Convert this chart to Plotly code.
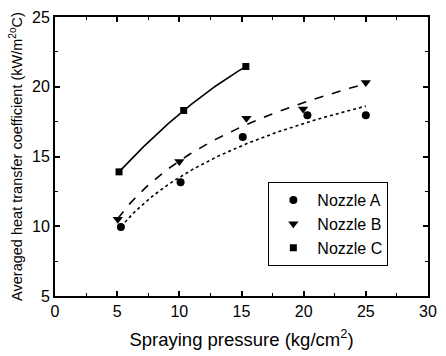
import numpy as np
import plotly.graph_objects as go

# Spraying pressure (kg/cm^2) and averaged heat transfer coefficient (kW/m^2 °C)
pressure_a = [5.3, 10.1, 15.1, 20.3, 25.0]
htc_a = [9.95, 13.15, 16.4, 17.95, 17.95]

pressure_b = [5.05, 10.0, 15.4, 19.95, 25.0]
htc_b = [10.5, 14.65, 17.75, 18.4, 20.3]

pressure_c = [5.15, 10.35, 15.35]
htc_c = [13.9, 18.3, 21.45]

x_ticks = [0, 5, 10, 15, 20, 25, 30]
y_ticks = [5, 10, 15, 20, 25]

FONT = "Liberation Sans, Arial, sans-serif"

fig = go.Figure()


def log_fit(xs, ys):
    # least-squares y = a*ln(x) + b
    a, b = np.polyfit(np.log(xs), ys, 1)
    xx = np.linspace(min(xs), max(xs), 80)
    return xx, a * np.log(xx) + b


def quad_fit(xs, ys):
    coef = np.polyfit(xs, ys, 2)
    xx = np.linspace(min(xs), max(xs), 80)
    return xx, np.polyval(coef, xx)


series = [
    ("Nozzle A", pressure_a, htc_a, "circle", "dot", 8, log_fit),
    ("Nozzle B", pressure_b, htc_b, "triangle-down", "dash", 9, log_fit),
    ("Nozzle C", pressure_c, htc_c, "square", "solid", 7, quad_fit),
]

for name, xs, ys, sym, dash, msize, fit in series:
    fx, fy = fit(xs, ys)
    fig.add_trace(go.Scatter(
        x=fx, y=fy, mode="lines", showlegend=False, hoverinfo="skip",
        line=dict(color="black", width=1.6, dash=dash),
    ))
    fig.add_trace(go.Scatter(
        x=xs, y=ys, mode="markers", name=name,
        marker=dict(symbol=sym, size=msize, color="black"),
    ))

axis_common = dict(
    showline=True, linecolor="black", linewidth=2, mirror="ticks",
    ticks="inside", ticklen=5, tickwidth=1.5, tickcolor="black",
    showgrid=False, zeroline=False,
    tickfont=dict(family=FONT, size=16, color="black"),
    minor=dict(ticks="inside", ticklen=3, tickcolor="black", tickwidth=1.2),
)

fig.update_xaxes(
    range=[0, 30], tickvals=x_ticks, minor_dtick=2.5, minor_tick0=0,
    title=dict(text="Spraying pressure (kg/cm<sup>2</sup>)",
               font=dict(family=FONT, size=18.5, color="black"), standoff=14),
    **axis_common,
)
fig.update_yaxes(
    range=[5, 25], tickvals=y_ticks, minor_dtick=2.5, minor_tick0=0,
    title=dict(text="Averaged heat transfer coefficient (kW/m<sup>2o</sup>C)",
               font=dict(family=FONT, size=14.5, color="black"), standoff=6),
    **axis_common,
)

fig.update_layout(
    width=446, height=356,
    margin=dict(l=55, r=9, t=15, b=57),
    plot_bgcolor="white", paper_bgcolor="white",
    font=dict(family=FONT, color="black"),
    legend=dict(
        x=0.572, y=0.408, xanchor="left", yanchor="top",
        bordercolor="black", borderwidth=1, bgcolor="white",
        font=dict(family=FONT, size=16, color="black"),
        itemwidth=38, tracegroupgap=0,
    ),
)

fig.write_html("out.html")
